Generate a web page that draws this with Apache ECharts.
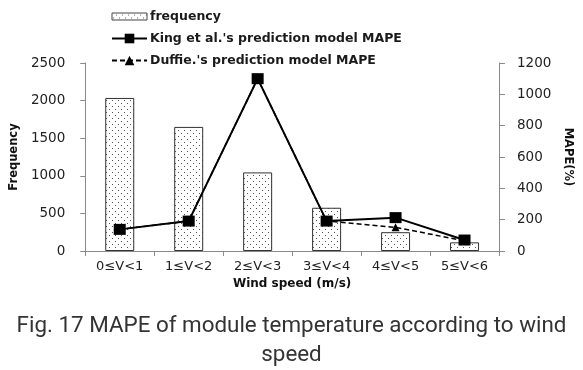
<!DOCTYPE html>
<html>
<head>
<meta charset="utf-8">
<script src="https://cdn.jsdelivr.net/npm/echarts@6/dist/echarts.min.js"></script>
<style>
  html, body { margin: 0; padding: 0; background: #fff; }
  #chart { width: 583px; height: 370px; }
</style>
</head>
<body>
<div id="chart"></div>
<script>
// Wind speed bins
const categories = ['0≤V<1', '1≤V<2', '2≤V<3', '3≤V<4', '4≤V<5', '5≤V<6'];
// Number of samples in each bin
const frequency = [2035, 1650, 1045, 575, 250, 115];
// MAPE (%) of each prediction model
const kingMape = [138, 191, 1100, 191, 213, 70];
const duffieMape = [138, 191, 1100, 191, 151, 65];
// Axis ranges
const freqMax = 2500, freqStep = 500;
const mapeMax = 1200, mapeStep = 200;

// Dotted fill used for the frequency bars
function dotPattern() {
  const c = document.createElement('canvas');
  c.width = 6; c.height = 6;
  const g = c.getContext('2d');
  g.fillStyle = '#fff';
  g.fillRect(0, 0, 6, 6);
  g.fillStyle = '#555';
  g.fillRect(1, 1, 1, 1);
  g.fillRect(4, 4, 1, 1);
  return c;
}

const font = '"DejaVu Sans", "Liberation Sans", sans-serif';
const axisGray = '#8a8a8a';
const plainNumber = v => String(v);
const chart = echarts.init(document.getElementById('chart'), null, { renderer: 'canvas' });

chart.setOption({
  animation: false,
  backgroundColor: '#fff',
  textStyle: { fontFamily: font },
  legend: {
    orient: 'vertical',
    left: 106,
    top: 5,
    itemGap: 9,
    itemWidth: 35,
    itemHeight: 12,
    textStyle: { fontFamily: font, fontSize: 12.5, fontWeight: 'bold', color: '#1a1a1a', padding: [0, 0, 0, -2] },
    data: [
      { name: 'frequency', icon: 'path://M0,0L35,0L35,7L0,7Z', itemStyle: { borderColor: '#444', borderWidth: 1 } },
      { name: "King et al.'s prediction model MAPE" },
      { name: "Duffie.'s prediction model MAPE" }
    ]
  },
  grid: { left: 80, right: 84, top: 63, bottom: 119 },
  xAxis: {
    type: 'category',
    data: categories,
    boundaryGap: true,
    name: 'Wind speed (m/s)',
    nameLocation: 'middle',
    nameGap: 22,
    nameTextStyle: { fontFamily: font, fontSize: 12, fontWeight: 'bold', color: '#111' },
    axisLine: { lineStyle: { color: axisGray, width: 1 } },
    axisTick: { show: true, length: 5, lineStyle: { color: axisGray } },
    axisLabel: { fontFamily: font, fontSize: 13, color: '#222', margin: 9 }
  },
  yAxis: [
    {
      type: 'value',
      min: 0, max: freqMax, interval: freqStep,
      name: 'Frequency',
      nameLocation: 'middle',
      nameRotate: 90,
      nameGap: 56,
      nameTextStyle: { fontFamily: font, fontSize: 11.5, fontWeight: 'bold', color: '#111' },
      axisLine: { show: true, lineStyle: { color: axisGray } },
      axisTick: { show: true, length: 5, lineStyle: { color: axisGray } },
      axisLabel: { fontFamily: font, fontSize: 13.5, color: '#222', margin: 20, formatter: plainNumber },
      splitLine: { show: false }
    },
    {
      type: 'value',
      min: 0, max: mapeMax, interval: mapeStep,
      name: 'MAPE(%)',
      nameLocation: 'middle',
      nameRotate: -90,
      nameGap: 62,
      nameTextStyle: { fontFamily: font, fontSize: 11.5, fontWeight: 'bold', color: '#111' },
      axisLine: { show: true, lineStyle: { color: axisGray } },
      axisTick: { show: true, length: 6, lineStyle: { color: axisGray } },
      axisLabel: { fontFamily: font, fontSize: 13.5, color: '#222', margin: 18, formatter: plainNumber },
      splitLine: { show: false }
    }
  ],
  series: [
    {
      name: 'frequency',
      type: 'bar',
      yAxisIndex: 0,
      data: frequency,
      barWidth: 29,
      itemStyle: {
        color: { image: dotPattern(), repeat: 'repeat' },
        borderColor: '#333',
        borderWidth: 1
      },
      z: 1
    },
    {
      name: "Duffie.'s prediction model MAPE",
      type: 'line',
      yAxisIndex: 1,
      data: duffieMape,
      symbol: 'triangle',
      symbolSize: 8,
      lineStyle: { color: '#000', width: 1.5, type: [5, 3] },
      itemStyle: { color: '#000' },
      z: 3
    },
    {
      name: "King et al.'s prediction model MAPE",
      type: 'line',
      yAxisIndex: 1,
      data: kingMape,
      symbol: 'rect',
      symbolSize: [12, 11],
      lineStyle: { color: '#000', width: 2 },
      itemStyle: { color: '#000' },
      z: 4
    }
  ],
  graphic: [
    {
      type: 'text',
      x: 291.5,
      y: 326.5,
      style: {
        text: 'Fig. 17 MAPE of module temperature according to wind',
        font: '22.4px Roboto, sans-serif',
        fill: '#333',
        align: 'center',
        verticalAlign: 'middle'
      }
    },
    {
      type: 'text',
      x: 291.5,
      y: 355.5,
      style: {
        text: 'speed',
        font: '22.4px Roboto, sans-serif',
        fill: '#333',
        align: 'center',
        verticalAlign: 'middle'
      }
    }
  ]
});
</script>
</body>
</html>
